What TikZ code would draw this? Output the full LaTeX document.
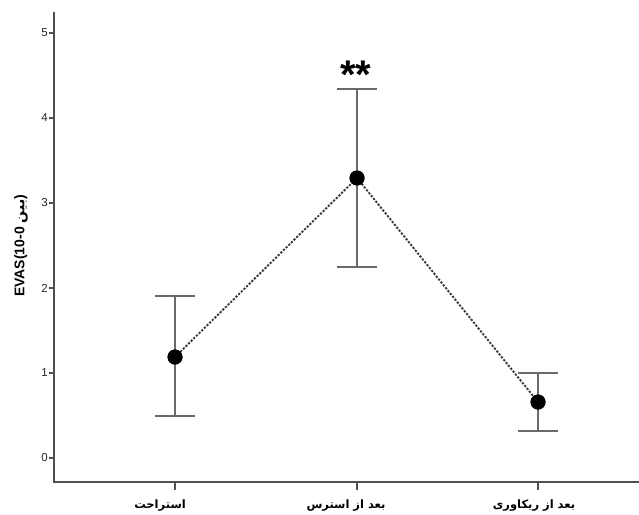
\documentclass[tikz,border=0pt]{standalone}
\usepackage{fontspec}
\setmainfont{Liberation Sans}
\newfontfamily\fa[Script=Arabic]{DejaVu Sans}
\TeXXeTstate=1
\definecolor{axisgray}{HTML}{505050}
\definecolor{bargray}{HTML}{6A6A6A}
\definecolor{dotgray}{HTML}{3A3A3A}
\begin{document}
\begin{tikzpicture}[x=1pt,y=-1pt,
  axisline/.style={draw=axisgray,line width=1.4pt},
  tickline/.style={draw=axisgray,line width=1.2pt},
  ticklab/.style={anchor=east,inner sep=0pt,font=\fontsize{11.5}{13}\selectfont,text=black!85},
  errbar/.style={draw=bargray,line width=1.2pt},
  meanpt/.style={circle,fill=black,inner sep=0pt,minimum size=15pt},
  linkline/.style={draw=dotgray,line width=1.9pt,dash pattern=on 2.2pt off 1.5pt},
  catlab/.style={inner sep=0pt,font=\fa\bfseries\fontsize{11.5}{13}\selectfont},
]
\useasboundingbox[fill=white] (0,0) rectangle (639,514);
% axes
\coordinate (ytop) at (54,12);
\coordinate (origin) at (54,482);
\coordinate (xend) at (639,482);
\draw[axisline] (ytop) -- (origin) -- (xend);
% y ticks
\foreach \v in {0,...,5}{
  \coordinate (yt\v) at (54,{458-85*\v});
  \coordinate (ytl\v) at (49,{458-85*\v});
  \draw[tickline] (yt\v) -- (ytl\v);
  \node[ticklab] (ylab\v) at (48,{458-85*\v}) {\v};
}
% x ticks
\foreach \n/\x in {a/175,b/357,c/538}{
  \coordinate (xt\n) at (\x,482);
  \coordinate (xtl\n) at (\x,490);
  \draw[tickline] (xt\n) -- (xtl\n);
}
% category labels
\node[catlab] (cata) at (160,506) {\beginR استراحت\endR};
\node[catlab] (catb) at (346,506) {\beginR بعد از استرس\endR};
\node[catlab] (catc) at (534,506) {\beginR بعد از ریکاوری\endR};
% y-axis label
\node[rotate=90,inner sep=0pt,font=\bfseries\fontsize{14}{16}\selectfont] (ylabel) at (21,246)
  {EVAS(10-0 {\fa\bfseries\beginR بین\endR})};
% error bars
\foreach \n/\x/\lo/\hi in {a/175/416/296, b/357/267/89, c/538/431/373}{
  \coordinate (lo\n) at (\x,\lo);
  \coordinate (hi\n) at (\x,\hi);
  \coordinate (lol\n) at (\x-20,\lo);
  \coordinate (lor\n) at (\x+20,\lo);
  \coordinate (hil\n) at (\x-20,\hi);
  \coordinate (hir\n) at (\x+20,\hi);
  \draw[errbar] (lo\n) -- (hi\n);
  \draw[errbar] (lol\n) -- (lor\n);
  \draw[errbar] (hil\n) -- (hir\n);
}
% means
\node[meanpt] (pa) at (175,357) {};
\node[meanpt] (pb) at (357,178) {};
\node[meanpt] (pc) at (538,402) {};
\draw[linkline] (pa.center) -- (pb.center) -- (pc.center);
\node[meanpt] at (pa) {};
\node[meanpt] at (pb) {};
\node[meanpt] at (pc) {};
% significance
\node[inner sep=0pt,font=\bfseries\fontsize{40}{40}\selectfont] (sig) at (356,75) {**};
\end{tikzpicture}
\end{document}
